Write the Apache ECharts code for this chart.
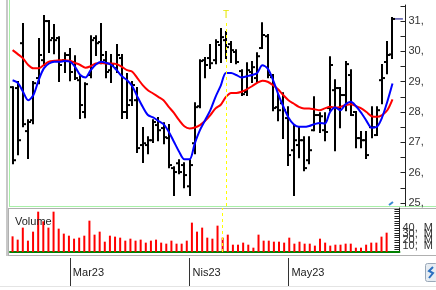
<!DOCTYPE html>
<html>
<head>
<meta charset="utf-8">
<script src="https://cdn.jsdelivr.net/npm/echarts@6/dist/echarts.min.js"></script>
<style>
  html, body { margin: 0; padding: 0; background: #fff; }
  #chart { width: 436px; height: 290px; }
</style>
</head>
<body>
<div id="chart"></div>
<script>
// trading days shown (Feb 14 - May 31 2023)
var febDays = [14, 15, 16, 17, 20, 21, 22, 23, 24, 27, 28]
var marDays = [1, 2, 3, 6, 7, 8, 9, 10, 13, 14, 15, 16, 17, 20, 21, 22, 23, 24, 27, 28, 29, 30, 31]
var aprDays = [3, 4, 5, 6, 7, 10, 11, 12, 13, 14, 17, 18, 19, 20, 24, 25, 26, 27, 28]
var mayDays = [2, 3, 4, 5, 8, 9, 10, 11, 12, 15, 16, 17, 18, 22, 23, 24, 25, 26, 29, 30, 31]
var monthLabels = { '03-01': 'Mar23', '04-03': 'Nis23', '05-02': 'May23' }

// OHLC
var openP = [28.82, 28.79, 30.27, 27.37, 27.73, 29.12, 29.71, 31.00, 30.44, 30.44,
  29.71, 29.88, 29.65, 29.05, 28.00, 29.22, 30.44, 30.31, 29.71, 29.38,
  29.45, 29.78, 28.00, 28.39, 28.39, 26.91, 26.91, 27.07, 27.57, 27.47,
  27.14, 26.15, 26.31, 26.25, 25.55, 26.97, 28.19, 29.71, 29.78, 29.71,
  30.21, 30.37, 30.24, 29.98, 29.35, 28.66, 29.32, 29.12, 30.11, 30.50,
  29.15, 28.16, 28.29, 27.80, 26.74, 26.91, 27.07, 26.41, 27.40, 27.90,
  27.40, 28.13, 28.72, 28.79, 28.56, 29.22, 28.00, 27.14, 27.07, 27.50,
  27.24, 29.05, 29.65, 29.90]
var closeP = [26.41, 27.07, 27.60, 27.67, 28.95, 29.88, 31.00, 30.37, 30.37, 29.55,
  29.88, 29.32, 29.12, 28.23, 28.92, 30.37, 30.27, 29.88, 29.32, 29.55,
  29.88, 28.00, 28.23, 28.89, 26.81, 26.97, 27.07, 27.67, 27.40, 27.17,
  26.25, 26.02, 26.02, 25.92, 26.25, 28.16, 29.68, 29.55, 29.61, 30.31,
  30.47, 30.14, 30.04, 29.65, 28.59, 29.38, 29.48, 29.84, 30.54, 29.22,
  28.13, 28.06, 28.06, 26.58, 27.07, 27.07, 26.15, 26.74, 27.90, 27.86,
  27.34, 29.55, 28.79, 28.56, 29.58, 27.90, 27.14, 27.07, 26.58, 27.50,
  28.06, 29.12, 29.88, 31.07]
var lowP = [26.31, 26.61, 27.53, 26.48, 27.63, 28.95, 29.55, 29.98, 29.94, 29.02,
  29.32, 29.05, 29.09, 27.80, 27.83, 29.15, 29.88, 29.61, 29.15, 28.99,
  29.32, 27.80, 27.80, 28.23, 26.68, 26.35, 26.64, 27.01, 27.07, 26.97,
  26.18, 25.26, 25.98, 25.52, 25.26, 26.64, 28.16, 29.15, 29.45, 29.61,
  29.65, 29.78, 29.65, 29.61, 28.56, 28.56, 28.99, 28.99, 30.11, 29.15,
  28.06, 27.73, 27.14, 26.25, 25.26, 26.51, 26.08, 26.31, 27.40, 27.34,
  27.07, 28.06, 26.74, 27.50, 28.06, 27.90, 26.84, 26.84, 26.48, 27.17,
  27.24, 28.29, 29.28, 29.78]
var highP = [28.82, 28.99, 30.90, 27.73, 28.99, 30.41, 31.17, 31.00, 30.87, 30.47,
  29.94, 30.08, 29.84, 29.18, 28.95, 30.50, 30.50, 30.90, 29.98, 29.88,
  30.21, 29.88, 29.25, 28.99, 28.79, 27.47, 27.17, 27.73, 27.80, 27.63,
  27.57, 26.18, 26.41, 26.31, 26.41, 28.29, 29.71, 29.78, 30.21, 30.37,
  30.74, 30.64, 30.31, 30.04, 29.38, 29.61, 29.65, 29.94, 30.93, 30.54,
  29.22, 28.56, 28.62, 28.16, 27.57, 27.47, 27.17, 27.17, 28.49, 27.96,
  27.96, 29.81, 29.05, 28.79, 29.65, 29.38, 28.00, 27.34, 27.34, 28.16,
  28.16, 29.55, 30.31, 31.10]

// moving averages (blue = short, red = long)
var maShort = [29.05, 28.96, 28.67, 28.39, 28.56, 29.05, 29.44, 29.60, 29.66, 29.66,
  29.68, 29.66, 29.49, 29.22, 29.14, 29.38, 29.57, 29.66, 29.62, 29.55,
  29.38, 29.18, 29.05, 28.85, 28.50, 28.17, 27.90, 27.82, 27.71, 27.60,
  27.35, 27.02, 26.69, 26.44, 26.44, 26.96, 27.40, 27.73, 28.06, 28.50,
  28.87, 29.29, 29.29, 29.22, 29.14, 29.18, 29.22, 29.29, 29.54, 29.44,
  29.08, 28.61, 28.19, 27.82, 27.60, 27.51, 27.51, 27.54, 27.60, 27.64,
  27.62, 28.00, 28.15, 28.06, 28.26, 28.34, 28.19, 27.97, 27.71, 27.48,
  27.51, 27.82, 28.34, 28.94]
var maLong = [30.04, 29.91, 29.77, 29.55, 29.44, 29.44, 29.55, 29.66, 29.69, 29.71,
  29.71, 29.69, 29.62, 29.55, 29.46, 29.51, 29.60, 29.62, 29.60, 29.60,
  29.58, 29.49, 29.38, 29.33, 29.11, 28.89, 28.72, 28.61, 28.50, 28.39,
  28.17, 27.97, 27.73, 27.53, 27.46, 27.49, 27.57, 27.71, 27.90, 28.12,
  28.24, 28.50, 28.63, 28.63, 28.67, 28.75, 28.85, 28.96, 29.03, 29.00,
  28.89, 28.75, 28.56, 28.39, 28.28, 28.17, 28.12, 28.12, 28.09, 28.06,
  28.12, 28.17, 28.15, 28.17, 28.23, 28.26, 28.19, 28.12, 28.00, 27.86,
  27.84, 27.90, 28.06, 28.42]

var volume = [26.1, 20.6, 40.6, 18.9, 33.9, 67.2, 51.1, 40.6, 67.2, 38.9,
  30.6, 27.2, 22.2, 23.9, 27.2, 52.2, 28.9, 33.9, 17.2, 27.2,
  25.6, 23.9, 18.9, 22.2, 18.9, 20.6, 15.6, 18.9, 20.6, 15.6,
  13.9, 18.9, 13.9, 13.9, 18.9, 48.9, 33.9, 40.6, 23.9, 22.2,
  43.9, 23.9, 28.9, 12.2, 12.2, 15.6, 12.2, 7.2, 28.9, 18.9,
  18.9, 17.2, 17.2, 15.6, 23.9, 13.9, 17.2, 13.9, 13.9, 10.6,
  22.2, 15.6, 10.6, 12.2, 12.2, 13.9, 13.9, 7.2, 7.2, 12.2,
  15.6, 15.6, 25.6, 32.2]

var priceLabels = [25, 26, 27, 28, 29, 30, 31]
var priceTicks = [25, 25.5, 26, 26.5, 27, 27.5, 28, 28.5, 29, 29.5, 30, 30.5, 31, 31.5]
var volLabels = [0, 10, 20, 30, 40, 50]
var volTicks = [0, 4, 8, 12, 16, 20, 24, 28, 32, 36, 40, 44, 48, 52, 56, 60, 64, 68, 72]
var markerIndex = 41 // yellow dashed line

function pad(n) { return n < 10 ? '0' + n : '' + n }
var categories = []
febDays.forEach(function(d) { categories.push('02-' + pad(d)) })
marDays.forEach(function(d) { categories.push('03-' + pad(d)) })
aprDays.forEach(function(d) { categories.push('04-' + pad(d)) })
mayDays.forEach(function(d) { categories.push('05-' + pad(d)) })
// two empty slots on the right like the original
categories.push('x1', 'x2')

var ohlc = openP.map(function(o, i) {
  return [i, o, closeP[i], lowP[i], highP[i]]
})
var lastClose = closeP[closeP.length - 1]
var lastIdx = closeP.length - 1

function renderOhlc(params, api) {
  var idx = api.value(0)
  var x = Math.round(api.coord([idx, 0])[0])
  var yo = api.coord([idx, api.value(1)])[1]
  var yc = api.coord([idx, api.value(2)])[1]
  var yl = api.coord([idx, api.value(3)])[1]
  var yh = api.coord([idx, api.value(4)])[1]
  var st = { stroke: '#000', lineWidth: 2 }
  return {
    type: 'group',
    children: [
      { type: 'line', shape: { x1: x, y1: yh - 1, x2: x, y2: yl + 1 }, style: st },
      { type: 'line', shape: { x1: x - 3, y1: yo, x2: x, y2: yo }, style: st },
      { type: 'line', shape: { x1: x, y1: yc, x2: x + 3, y2: yc }, style: st }
    ]
  }
}

var font = 'Liberation Sans'
var chart = echarts.init(document.getElementById('chart'))

chart.setOption({
  animation: false,
  backgroundColor: '#fff',
  title: {
    text: 'Volume',
    left: 10,
    top: 211,
    textStyle: { fontSize: 11, fontWeight: 'normal', color: '#222', fontFamily: font }
  },
  grid: [
    { left: 10, width: 395.5, top: 5, height: 201 },
    { left: 10, width: 395.5, top: 208, height: 44 },
    { left: 10, width: 395.5, top: 258, height: 28 }
  ],
  xAxis: [
    { type: 'category', gridIndex: 0, data: categories, show: false },
    {
      type: 'category', gridIndex: 1, data: categories,
      axisLine: { show: true, lineStyle: { color: '#008000', width: 2 } },
      axisTick: { show: false },
      axisLabel: { show: false }
    },
    {
      type: 'category', gridIndex: 2, data: categories, position: 'top',
      axisLine: { show: false, onZero: false },
      axisTick: {
        show: true, inside: true, length: 28, alignWithLabel: true,
        interval: function(i, v) { return !!monthLabels[v] },
        lineStyle: { color: '#333', width: 1 }
      },
      axisLabel: {
        show: true, inside: true, margin: 9, align: 'left',
        interval: function(i, v) { return !!monthLabels[v] },
        formatter: function(v) { return monthLabels[v] || '' },
        padding: [0, 0, 0, 3],
        fontSize: 11, color: '#222', fontFamily: font
      }
    }
  ],
  yAxis: [
    {
      type: 'value', gridIndex: 0, position: 'right', min: 24.9, max: 31.53,
      splitLine: { show: false },
      axisLine: { show: true, lineStyle: { color: '#222', width: 1 } },
      axisTick: { show: true, inside: true, length: 5, customValues: priceTicks, lineStyle: { color: '#222' } },
      axisLabel: {
        customValues: priceLabels, margin: 3,
        formatter: function(v) { return v + ',' },
        fontSize: 11, color: '#333', fontFamily: font
      }
    },
    {
      type: 'value', gridIndex: 1, position: 'right', min: 0, max: 73.3,
      splitLine: { show: false },
      axisLine: { show: true, lineStyle: { color: '#222', width: 1 } },
      axisTick: { show: true, inside: true, length: 5, customValues: volTicks, lineStyle: { color: '#222' } },
      axisLabel: {
        customValues: volLabels, margin: 3,
        formatter: function(v) { return v + ',  M' },
        fontSize: 11, color: '#333', fontFamily: font
      }
    },
    { type: 'value', gridIndex: 2, show: false }
  ],
  series: [
    {
      name: 'MA long', type: 'line', xAxisIndex: 0, yAxisIndex: 0,
      data: maLong, smooth: 0.3, symbol: 'none', z: 3,
      lineStyle: { color: '#ff0000', width: 2 }
    },
    {
      name: 'MA short', type: 'line', xAxisIndex: 0, yAxisIndex: 0,
      data: maShort, smooth: 0.3, symbol: 'none', z: 3,
      lineStyle: { color: '#0000ff', width: 2 }
    },
    {
      name: 'Price', type: 'custom', xAxisIndex: 0, yAxisIndex: 0,
      renderItem: renderOhlc, data: ohlc, z: 2,
      encode: { x: 0, y: [1, 2, 3, 4] },
      markLine: {
        silent: true, symbol: 'none',
        lineStyle: { color: '#ffff00', type: [3, 3], width: 1 },
        label: { show: true, position: 'end', formatter: 'T', color: '#e6e600', fontSize: 10, distance: 1 },
        data: [[
          { xAxis: categories[markerIndex], yAxis: 24.9 },
          { xAxis: categories[markerIndex], yAxis: 31.0 }
        ]]
      }
    },
    {
      name: 'Last', type: 'line', xAxisIndex: 0, yAxisIndex: 0,
      data: [[lastIdx, lastClose], [lastIdx + 2, lastClose]],
      symbol: 'none', lineStyle: { color: '#000080', width: 1 }, z: 1
    },
    {
      name: 'Volume', type: 'bar', xAxisIndex: 1, yAxisIndex: 1,
      data: volume, barWidth: 2, itemStyle: { color: '#ff0000' },
      markLine: {
        silent: true, symbol: 'none',
        lineStyle: { color: '#ffff00', type: [3, 3], width: 1 },
        label: { show: false },
        data: [{ xAxis: categories[markerIndex] }]
      }
    }
  ],
  graphic: [
    { type: 'line', shape: { x1: 7, y1: 0, x2: 7, y2: 256 }, style: { stroke: '#c8c8c8', lineWidth: 2 } },
    { type: 'line', shape: { x1: 9.5, y1: 0, x2: 9.5, y2: 206 }, style: { stroke: '#a8f0a8', lineWidth: 1 } },
    { type: 'line', shape: { x1: 9, y1: 206.5, x2: 436, y2: 206.5 }, style: { stroke: '#a8f0a8', lineWidth: 1 } },
    { type: 'line', shape: { x1: 8, y1: 208.5, x2: 436, y2: 208.5 }, style: { stroke: '#b0b0b0', lineWidth: 1 } },
    { type: 'line', shape: { x1: 8.5, y1: 208, x2: 8.5, y2: 255 }, style: { stroke: '#b0b0b0', lineWidth: 1 } },
    { type: 'line', shape: { x1: 8, y1: 255.5, x2: 436, y2: 255.5 }, style: { stroke: '#b0b0b0', lineWidth: 1 } },
    { type: 'line', shape: { x1: 0, y1: 286.5, x2: 436, y2: 286.5 }, style: { stroke: '#e4e4e4', lineWidth: 1 } },
    { type: 'line', shape: { x1: 389, y1: 205, x2: 393, y2: 202 }, style: { stroke: '#3a8ad0', lineWidth: 2 } },
    {
      type: 'rect', shape: { x: 425.5, y: 263.5, width: 12, height: 18, r: 2 },
      style: { fill: '#e6ecf2', stroke: '#9aa8b8', lineWidth: 1 }
    },
    {
      type: 'polyline', shape: { points: [[433, 267], [429, 271], [433, 273], [429, 278]] },
      style: { stroke: '#2a6fc0', lineWidth: 2, fill: null }
    }
  ]
})
</script>
</body>
</html>
